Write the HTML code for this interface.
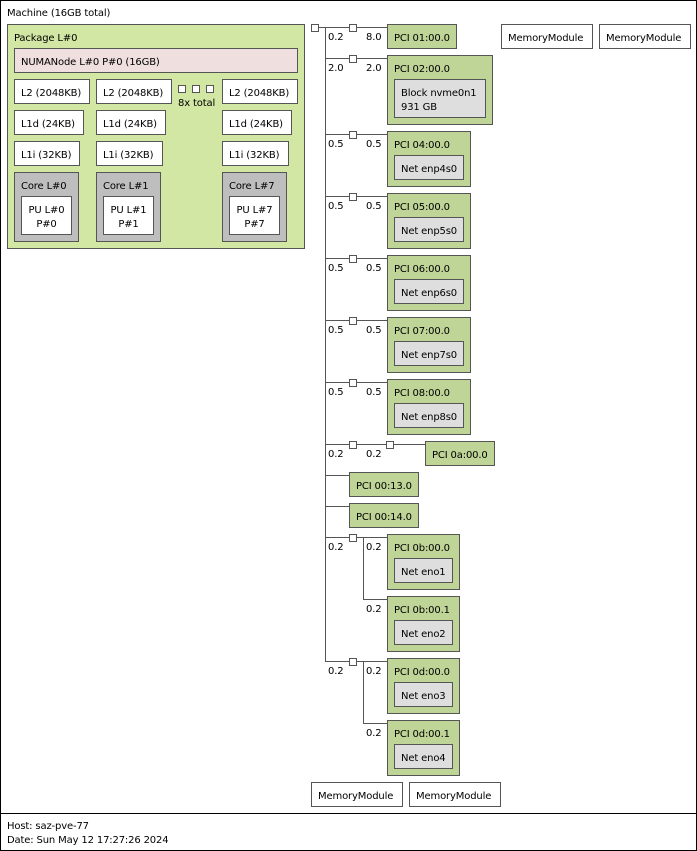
<!DOCTYPE html>
<html><head><meta charset="utf-8"><style>
*{margin:0;padding:0;box-sizing:border-box}
body{width:697px;height:851px;background:#fff;position:relative;font-family:"DejaVu Sans","Liberation Sans",sans-serif;font-size:10px;letter-spacing:-0.15px;color:#000;overflow:hidden}
div{position:absolute}
.b{border:1px solid #555;padding:7px 0 0 6px;line-height:14px;white-space:nowrap}
.w{background:#fff}
.g{background:#d2e7a4}
.p{background:#bfd497}
.c{background:#bebebe}
.n{background:#efdfde}
.d{background:#dedede}
.h{height:1px;background:#555}
.v{width:1px;background:#555}
.s{width:8px;height:8px;border:1px solid #555;background:#fff}
.t{line-height:14px;margin-top:1px;white-space:nowrap}
.ctr{text-align:center;padding:7px 0 0 0}
</style></head><body>
<div style="left:0;top:0;width:697px;height:814px;border:1px solid #000"></div>
<div style="left:0;top:813px;width:697px;height:38px;border:1px solid #000"></div>
<div class="t" style="left:7px;top:6px">Machine (16GB total)</div>
<div class="b g" style="left:7px;top:24px;width:298px;height:225px">Package L#0</div>
<div class="b n" style="left:14px;top:48px;width:284px;height:25px">NUMANode L#0 P#0 (16GB)</div>
<div class="b w" style="left:14px;top:79px;width:76px;height:25px">L2 (2048KB)</div>
<div class="b w" style="left:96px;top:79px;width:76px;height:25px">L2 (2048KB)</div>
<div class="b w" style="left:222px;top:79px;width:76px;height:25px">L2 (2048KB)</div>
<div class="s" style="left:178px;top:85px"></div><div class="s" style="left:192px;top:85px"></div><div class="s" style="left:206px;top:85px"></div>
<div class="t" style="left:178px;top:96px">8x total</div>
<div class="b w" style="left:14px;top:110px;width:70px;height:25px">L1d (24KB)</div>
<div class="b w" style="left:96px;top:110px;width:70px;height:25px">L1d (24KB)</div>
<div class="b w" style="left:222px;top:110px;width:70px;height:25px">L1d (24KB)</div>
<div class="b w" style="left:14px;top:141px;width:66px;height:25px">L1i (32KB)</div>
<div class="b w" style="left:96px;top:141px;width:67px;height:25px">L1i (32KB)</div>
<div class="b w" style="left:222px;top:141px;width:67px;height:25px">L1i (32KB)</div>
<div class="b c" style="left:14px;top:172px;width:65px;height:70px">Core L#0</div>
<div class="b c" style="left:96px;top:172px;width:65px;height:70px">Core L#1</div>
<div class="b c" style="left:222px;top:172px;width:65px;height:70px">Core L#7</div>
<div class="b w ctr" style="left:21px;top:196px;width:51px;height:39px">PU L#0<br>P#0</div>
<div class="b w ctr" style="left:103px;top:196px;width:51px;height:39px">PU L#1<br>P#1</div>
<div class="b w ctr" style="left:229px;top:196px;width:51px;height:39px">PU L#7<br>P#7</div>

<div class="s" style="left:311px;top:24px"></div>
<div class="h" style="left:318px;top:27px;width:70px"></div>
<div class="v" style="left:325px;top:27px;height:635px"></div>
<div class="h" style="left:325px;top:58px;width:63px"></div>
<div class="h" style="left:325px;top:134px;width:63px"></div>
<div class="h" style="left:325px;top:196px;width:63px"></div>
<div class="h" style="left:325px;top:258px;width:63px"></div>
<div class="h" style="left:325px;top:320px;width:63px"></div>
<div class="h" style="left:325px;top:382px;width:63px"></div>
<div class="h" style="left:325px;top:444px;width:101px"></div>
<div class="h" style="left:325px;top:475px;width:25px"></div>
<div class="h" style="left:325px;top:506px;width:25px"></div>
<div class="h" style="left:325px;top:537px;width:63px"></div>
<div class="v" style="left:363px;top:537px;height:63px"></div>
<div class="h" style="left:363px;top:599px;width:25px"></div>
<div class="h" style="left:325px;top:661px;width:63px"></div>
<div class="v" style="left:363px;top:661px;height:63px"></div>
<div class="h" style="left:363px;top:723px;width:25px"></div>
<div class="s" style="left:349px;top:24px"></div>
<div class="s" style="left:349px;top:55px"></div>
<div class="s" style="left:349px;top:131px"></div>
<div class="s" style="left:349px;top:193px"></div>
<div class="s" style="left:349px;top:255px"></div>
<div class="s" style="left:349px;top:317px"></div>
<div class="s" style="left:349px;top:379px"></div>
<div class="s" style="left:349px;top:441px"></div>
<div class="s" style="left:386px;top:441px"></div>
<div class="s" style="left:349px;top:534px"></div>
<div class="s" style="left:349px;top:658px"></div>

<div class="t" style="left:328px;top:30px">0.2</div><div class="t" style="left:366px;top:30px">8.0</div>
<div class="t" style="left:328px;top:61px">2.0</div><div class="t" style="left:366px;top:61px">2.0</div>
<div class="t" style="left:328px;top:137px">0.5</div><div class="t" style="left:366px;top:137px">0.5</div>
<div class="t" style="left:328px;top:199px">0.5</div><div class="t" style="left:366px;top:199px">0.5</div>
<div class="t" style="left:328px;top:261px">0.5</div><div class="t" style="left:366px;top:261px">0.5</div>
<div class="t" style="left:328px;top:323px">0.5</div><div class="t" style="left:366px;top:323px">0.5</div>
<div class="t" style="left:328px;top:385px">0.5</div><div class="t" style="left:366px;top:385px">0.5</div>
<div class="t" style="left:328px;top:447px">0.2</div><div class="t" style="left:366px;top:447px">0.2</div>
<div class="t" style="left:328px;top:540px">0.2</div><div class="t" style="left:366px;top:540px">0.2</div>
<div class="t" style="left:366px;top:602px">0.2</div>
<div class="t" style="left:328px;top:664px">0.2</div><div class="t" style="left:366px;top:664px">0.2</div>
<div class="t" style="left:366px;top:726px">0.2</div>

<div class="b p" style="left:387px;top:24px;width:70px;height:25px">PCI 01:00.0</div>
<div class="b p" style="left:387px;top:55px;width:106px;height:70px">PCI 02:00.0</div>
<div class="b d" style="left:394px;top:79px;width:92px;height:39px">Block nvme0n1<br>931 GB</div>
<div class="b p" style="left:387px;top:131px;width:84px;height:56px">PCI 04:00.0</div>
<div class="b d" style="left:394px;top:155px;width:70px;height:25px">Net enp4s0</div>
<div class="b p" style="left:387px;top:193px;width:84px;height:56px">PCI 05:00.0</div>
<div class="b d" style="left:394px;top:217px;width:70px;height:25px">Net enp5s0</div>
<div class="b p" style="left:387px;top:255px;width:84px;height:56px">PCI 06:00.0</div>
<div class="b d" style="left:394px;top:279px;width:70px;height:25px">Net enp6s0</div>
<div class="b p" style="left:387px;top:317px;width:84px;height:56px">PCI 07:00.0</div>
<div class="b d" style="left:394px;top:341px;width:70px;height:25px">Net enp7s0</div>
<div class="b p" style="left:387px;top:379px;width:84px;height:56px">PCI 08:00.0</div>
<div class="b d" style="left:394px;top:403px;width:70px;height:25px">Net enp8s0</div>
<div class="b p" style="left:425px;top:441px;width:70px;height:25px">PCI 0a:00.0</div>
<div class="b p" style="left:349px;top:472px;width:70px;height:25px">PCI 00:13.0</div>
<div class="b p" style="left:349px;top:503px;width:70px;height:25px">PCI 00:14.0</div>
<div class="b p" style="left:387px;top:534px;width:73px;height:56px">PCI 0b:00.0</div>
<div class="b d" style="left:394px;top:558px;width:59px;height:25px">Net eno1</div>
<div class="b p" style="left:387px;top:596px;width:73px;height:56px">PCI 0b:00.1</div>
<div class="b d" style="left:394px;top:620px;width:59px;height:25px">Net eno2</div>
<div class="b p" style="left:387px;top:658px;width:73px;height:56px">PCI 0d:00.0</div>
<div class="b d" style="left:394px;top:682px;width:59px;height:25px">Net eno3</div>
<div class="b p" style="left:387px;top:720px;width:73px;height:56px">PCI 0d:00.1</div>
<div class="b d" style="left:394px;top:744px;width:59px;height:25px">Net eno4</div>

<div class="b w" style="left:501px;top:24px;width:92px;height:25px">MemoryModule</div>
<div class="b w" style="left:599px;top:24px;width:92px;height:25px">MemoryModule</div>
<div class="b w" style="left:311px;top:782px;width:92px;height:25px">MemoryModule</div>
<div class="b w" style="left:409px;top:782px;width:92px;height:25px">MemoryModule</div>

<div class="t" style="left:7px;top:819px">Host: saz-pve-77</div>
<div class="t" style="left:7px;top:833px">Date: Sun May 12 17:27:26 2024</div>
</body></html>
